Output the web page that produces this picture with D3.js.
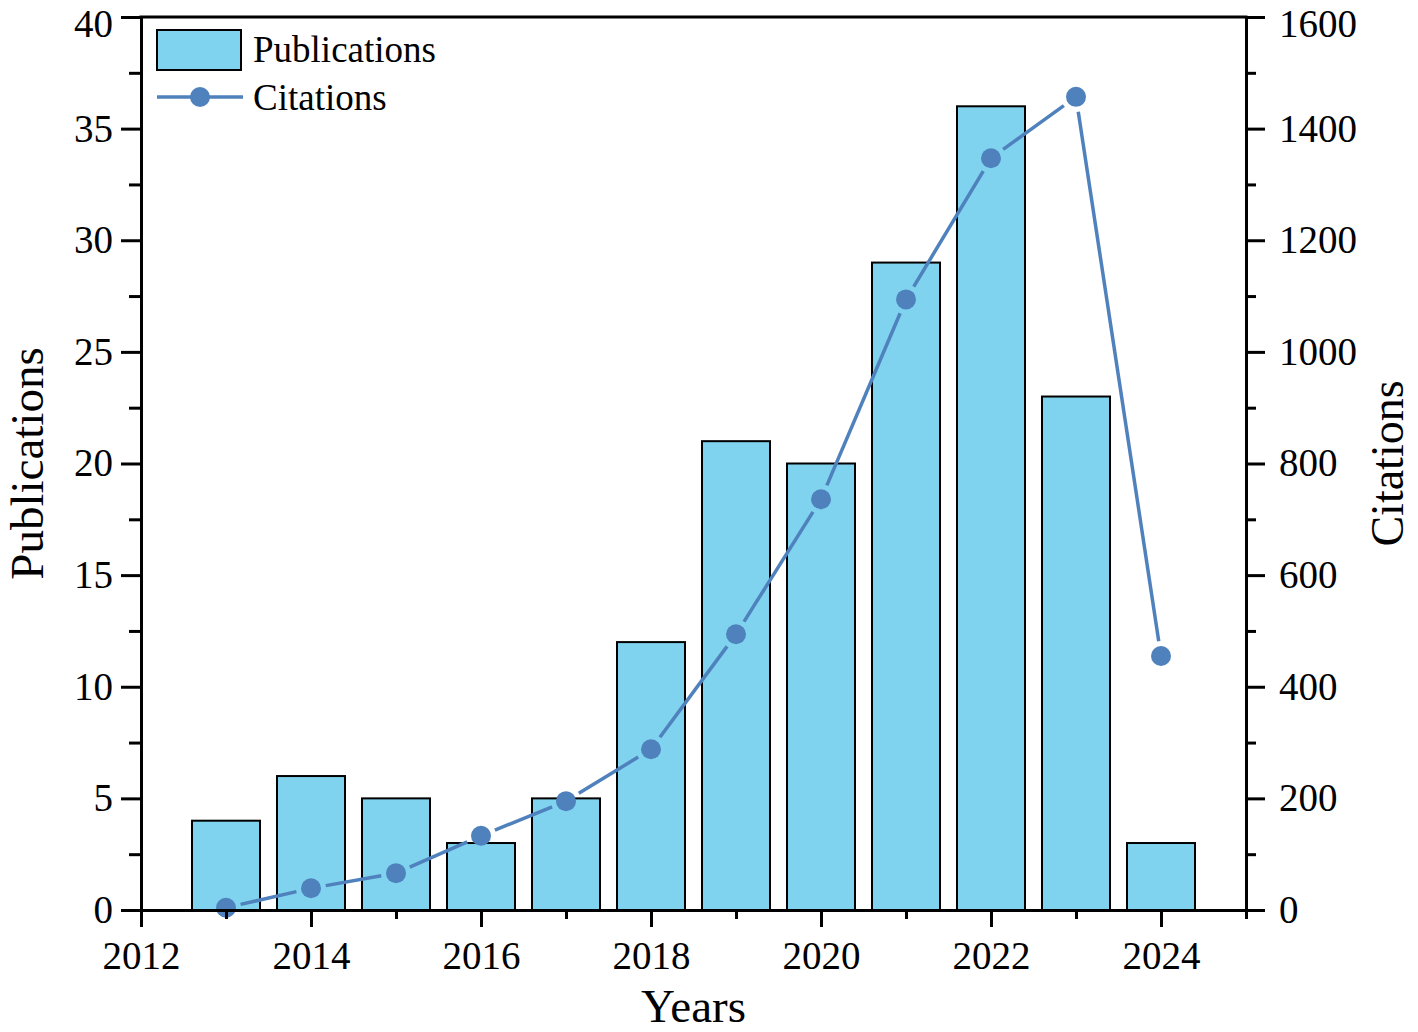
<!DOCTYPE html>
<html>
<head>
<meta charset="utf-8">
<script src="https://cdn.jsdelivr.net/npm/d3@7"></script>
<style>
  body { margin: 0; background: #fff; }
  text { font-family: "Liberation Serif", "Times New Roman", serif; fill: #000; }
  .axis path, .axis line { stroke: #000; stroke-width: 3; }
  .axis text { font-size: 39px; }
</style>
</head>
<body>
<svg id="chart"></svg>
<script>
var years = [2013, 2014, 2015, 2016, 2017, 2018, 2019, 2020, 2021, 2022, 2023, 2024];
var publications = [4, 6, 5, 3, 5, 12, 21, 20, 29, 36, 23, 3];
var citations = [4, 39, 66, 133, 195, 288, 494, 736, 1094, 1347, 1457, 455];
var yearTicks = [2012, 2014, 2016, 2018, 2020, 2022, 2024];

var margin = { top: 17, right: 172, bottom: 122, left: 141 },
  width = 1418 - margin.left - margin.right,
  height = 1032 - margin.top - margin.bottom;

var barColor = "#7fd3ef",
  lineColor = "#4f81bd";

var x = d3.scaleLinear()
  .domain([2012, 2025])
  .range([0, width]);
var y = d3.scaleLinear()
  .domain([0, 40])
  .range([height, 0]);
var y2 = d3.scaleLinear()
  .domain([0, 1600])
  .range([height, 0]);

var svg = d3.select("#chart")
  .attr("width", 1418)
  .attr("height", 1032)
  .append("g")
  .attr("transform", "translate(" + margin.left + "," + margin.top + ")");

var barW = (x(2013) - x(2012)) * 0.8;

// bars
svg.append("g").selectAll("rect")
    .data(years)
  .enter().append("rect")
    .attr("x", function(d) { return x(d) - barW / 2; })
    .attr("y", function(d, i) { return y(publications[i]); })
    .attr("width", barW)
    .attr("height", function(d, i) { return height - y(publications[i]); })
    .style("fill", barColor)
    .style("stroke", "#000")
    .style("stroke-width", 2);

// citations line, broken around the markers
var pts = years.map(function(d, i) { return [x(d), y2(citations[i])]; });
var gap = 15;
var segs = [];
for (var i = 1; i < pts.length; i++) {
  var a = pts[i - 1], b = pts[i];
  var dx = b[0] - a[0], dy = b[1] - a[1];
  var len = Math.sqrt(dx * dx + dy * dy);
  if (len <= 2 * gap) continue;
  var ux = dx / len, uy = dy / len;
  segs.push([a[0] + ux * gap, a[1] + uy * gap, b[0] - ux * gap, b[1] - uy * gap]);
}
svg.append("g").selectAll("line")
    .data(segs)
  .enter().append("line")
    .attr("x1", function(d) { return d[0]; })
    .attr("y1", function(d) { return d[1]; })
    .attr("x2", function(d) { return d[2]; })
    .attr("y2", function(d) { return d[3]; })
    .style("stroke", lineColor)
    .style("stroke-width", 3.5);

svg.append("g").selectAll("circle")
    .data(pts)
  .enter().append("circle")
    .attr("cx", function(d) { return d[0]; })
    .attr("cy", function(d) { return d[1]; })
    .attr("r", 10)
    .style("fill", lineColor);

// axes
var xAxis = d3.axisBottom(x)
  .tickValues(yearTicks)
  .tickFormat(d3.format("d"))
  .tickSize(17)
  .tickSizeOuter(0)
  .tickPadding(14);
var xMinor = d3.axisBottom(x)
  .tickValues([2013, 2015, 2017, 2019, 2021, 2023, 2025])
  .tickFormat("")
  .tickSize(9)
  .tickSizeOuter(0);

var yAxis = d3.axisLeft(y)
  .tickValues(d3.range(0, 41, 5))
  .tickSize(20)
  .tickSizeOuter(0)
  .tickPadding(8);
var yMinor = d3.axisLeft(y)
  .tickValues(d3.range(2.5, 40, 5))
  .tickFormat("")
  .tickSize(12)
  .tickSizeOuter(0);

var y2Axis = d3.axisRight(y2)
  .tickValues(d3.range(0, 1601, 200))
  .tickFormat(d3.format("d"))
  .tickSize(19)
  .tickSizeOuter(0)
  .tickPadding(14);
var y2Minor = d3.axisRight(y2)
  .tickValues(d3.range(100, 1600, 200))
  .tickFormat("")
  .tickSize(10)
  .tickSizeOuter(0);

svg.append("g").attr("class", "axis").attr("transform", "translate(0," + height + ")").call(xMinor);
svg.append("g").attr("class", "axis").attr("transform", "translate(0," + height + ")").call(xAxis);
svg.append("g").attr("class", "axis").call(yMinor);
svg.append("g").attr("class", "axis").call(yAxis);
svg.append("g").attr("class", "axis").attr("transform", "translate(" + width + ",0)").call(y2Minor);
svg.append("g").attr("class", "axis").attr("transform", "translate(" + width + ",0)").call(y2Axis);

// keep the top labels inside the picture
svg.selectAll(".axis .tick text")
  .filter(function(d) { return d === 40 || d === 1600; })
  .attr("dy", "0.5em");

svg.append("line")
  .attr("x1", -1.5).attr("x2", width + 1.5)
  .attr("y1", 0).attr("y2", 0)
  .style("stroke", "#000").style("stroke-width", 3);

// axis titles
svg.append("text")
  .attr("x", x(2018.5))
  .attr("y", height + 112)
  .attr("text-anchor", "middle")
  .style("font-size", "47px")
  .text("Years");

svg.append("text")
  .attr("transform", "translate(" + (-98) + "," + (height / 2) + ") rotate(-90)")
  .attr("text-anchor", "middle")
  .style("font-size", "47px")
  .text("Publications");

svg.append("text")
  .attr("transform", "translate(" + (width + 157) + "," + (height / 2) + ") rotate(-90)")
  .attr("text-anchor", "middle")
  .style("font-size", "46px")
  .text("Citations");

// legend
var legend = svg.append("g").attr("transform", "translate(16,13)");
legend.append("rect")
  .attr("x", 0).attr("y", 0)
  .attr("width", 84).attr("height", 40)
  .style("fill", barColor)
  .style("stroke", "#000")
  .style("stroke-width", 2);
legend.append("text")
  .attr("x", 96).attr("y", 32)
  .style("font-size", "37px")
  .text("Publications");
legend.append("line")
  .attr("x1", 0).attr("x2", 86)
  .attr("y1", 67).attr("y2", 67)
  .style("stroke", lineColor)
  .style("stroke-width", 3.5);
legend.append("circle")
  .attr("cx", 43).attr("cy", 67)
  .attr("r", 10)
  .style("fill", lineColor);
legend.append("text")
  .attr("x", 96).attr("y", 80)
  .style("font-size", "37px")
  .text("Citations");
</script>
</body>
</html>
